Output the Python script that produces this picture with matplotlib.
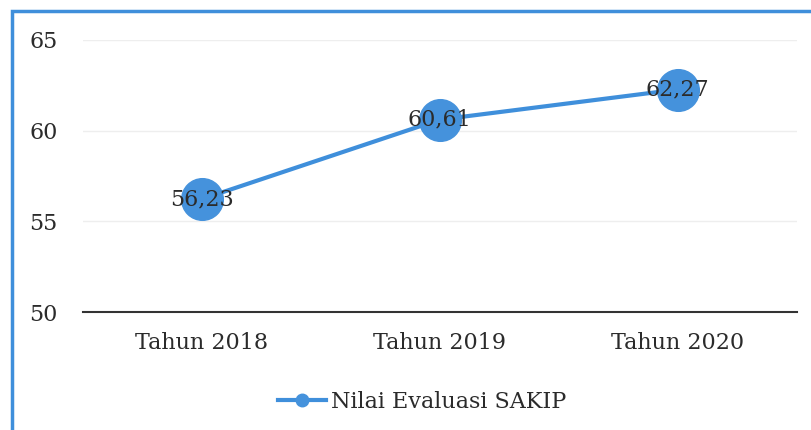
import matplotlib.pyplot as plt
from matplotlib.patches import Rectangle

years = ['Tahun 2018', 'Tahun 2019', 'Tahun 2020']
nilai = [56.23, 60.61, 62.27]
labels = ['56,23', '60,61', '62,27']
yticks = [50, 55, 60, 65]

plt.rcParams['font.family'] = ['DejaVu Serif']

fig = plt.figure(figsize=(8.12, 4.30), dpi=100)
ax = fig.add_axes([0.102, 0.274, 0.879, 0.633])

blue = '#3f8fdb'
x = list(range(len(years)))
ax.plot(x, nilai, color=blue, lw=3, marker='o', markersize=30,
        markerfacecolor='#4592dc', markeredgecolor='#4592dc',
        label='Nilai Evaluasi SAKIP', zorder=3)
for xi, v, t in zip(x, nilai, labels):
    ax.text(xi, v, t, ha='center', va='center', fontsize=16, color='#2b2b2b', zorder=4)

ax.set_xlim(-0.5, 2.5)
ax.set_ylim(50, 65)
ax.set_yticks(yticks)
ax.set_xticks(x)
ax.set_xticklabels(years)
ax.tick_params(axis='both', length=0, labelsize=16, colors='#2b2b2b')
ax.tick_params(axis='y', pad=18)
ax.tick_params(axis='x', pad=14)
ax.grid(axis='y', color='#eeeeee', lw=1)
ax.set_axisbelow(True)
for s in ['top', 'right', 'left']:
    ax.spines[s].set_visible(False)
ax.spines['bottom'].set_color('#333333')
ax.spines['bottom'].set_linewidth(1.5)

leg = ax.legend(loc='upper center', bbox_to_anchor=(0.475, -0.215), frameon=False,
                fontsize=16, markerscale=0.3, handlelength=2.2, handletextpad=0.2)
for t in leg.get_texts():
    t.set_color('#2b2b2b')

fig.patches.append(Rectangle((12 / 812, -0.1), 1.2, (430 - 11) / 430 + 0.1,
                             transform=fig.transFigure, fill=False,
                             edgecolor=blue, lw=2.5))

fig.savefig('out.png', dpi=100)
